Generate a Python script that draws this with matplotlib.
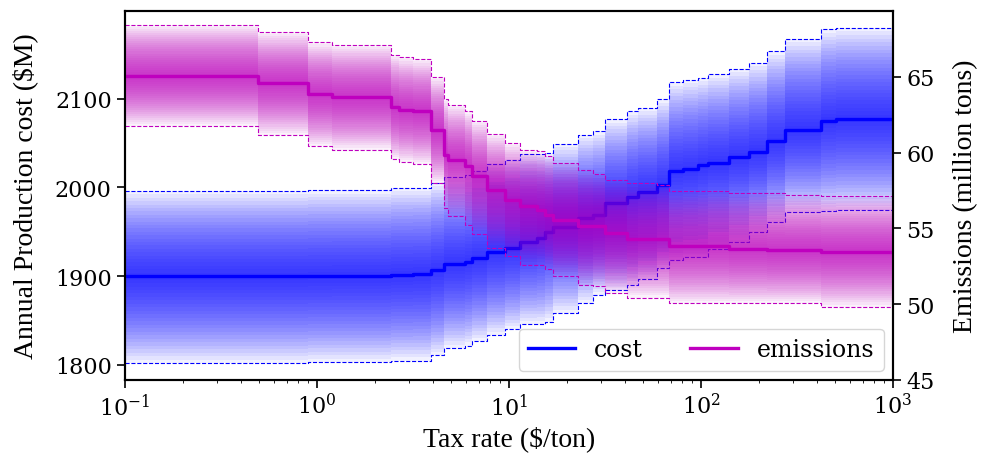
import numpy as np
import matplotlib
matplotlib.use("Agg")
import matplotlib.pyplot as plt

plt.rcParams["font.family"] = ["DejaVu Serif"]
plt.rcParams["mathtext.fontset"] = "stix"

LABEL_FONT = ["Liberation Serif", "DejaVu Serif"]

# tax rate at which each step starts ($/ton)
tax = [0.1, 0.49, 0.90, 1.2, 2.43, 2.67, 3.16, 3.92, 4.58, 4.81, 5.9, 6.42,
       7.68, 9.53, 11.4, 14.0, 15.4, 16.9, 22.9, 27.4, 31.6, 41.2, 47.0,
       59.0, 68.1, 80.5, 96.4, 108.7, 140, 178, 221, 274, 422, 505]
tax_end = 1000

# annual production cost ($M): median and band bounds
cost_med = [1900, 1900, 1900.3, 1900.5, 1901.5, 1901.5, 1902.3, 1906.8,
            1913.5, 1913.5, 1916.2, 1920, 1927.4, 1931.2, 1938, 1942.4, 1950,
            1955.6, 1965, 1968.6, 1981.8, 1989.3, 1995, 2002.4, 2018.1,
            2020.4, 2024.9, 2027.9, 2034.3, 2040, 2051.9, 2065, 2074.8, 2077.4]
cost_lo = [1801.8, 1801.8, 1802.9, 1802.9, 1804.8, 1804.8, 1804.8, 1810.5,
           1819, 1819, 1821.5, 1826.5, 1833.6, 1840, 1845.7, 1845.7, 1848.7,
           1858, 1869.3, 1878.6, 1884.3, 1890, 1897, 1909, 1918, 1921, 1921,
           1930, 1938.7, 1950, 1961.2, 1972.4, 1973.6, 1974.3]
cost_hi = [1996, 1996, 1996.8, 1996.8, 1999.5, 1999.5, 1999.5, 2005.4,
           2011.8, 2011.8, 2014.4, 2018.6, 2026, 2030.5, 2038, 2038, 2039.2,
           2049.3, 2059.4, 2063.1, 2076.6, 2085.6, 2089.5, 2099.1, 2118.7,
           2121.3, 2123.5, 2127.3, 2133.7, 2140.4, 2153.1, 2167.4, 2177.9, 2179.8]

# emissions (million tons)
em_med = [65.07, 64.59, 63.86, 63.66, 63.0, 62.83, 62.72, 61.47, 59.87, 59.54,
          59.13, 58.45, 57.57, 56.91, 56.47, 56.25, 55.92, 55.57, 55.13, 55.13,
          54.72, 54.28, 54.28, 54.28, 53.84, 53.84, 53.84, 53.84, 53.66, 53.66,
          53.55, 53.55, 53.47, 53.47]
em_lo = [61.74, 61.18, 60.42, 60.2, 59.59, 59.39, 59.26, 58.0, 56.36, 55.82,
         55.26, 54.65, 53.73, 53.17, 52.6, 52.6, 52.3, 51.84, 51.26, 51.2,
         50.72, 50.44, 50.44, 50.44, 50.05, 50.05, 50.05, 50.05, 50.05, 50.05,
         50.05, 50.05, 49.83, 49.83]
em_hi = [68.42, 67.94, 67.28, 67.1, 66.45, 66.3, 66.16, 64.98, 63.55, 63.16,
         62.72, 62.1, 61.23, 60.64, 60.2, 60.09, 59.76, 59.32, 58.83, 58.62,
         58.22, 58.0, 58.0, 57.89, 57.46, 57.46, 57.46, 57.46, 57.35, 57.35,
         57.35, 57.24, 57.13, 57.13]


def ext(v):
    # repeat last value so the final step reaches the axis end
    return np.array(list(v) + [v[-1]], dtype=float)


x = np.array(tax + [tax_end], dtype=float)


def fan(ax, med, lo, hi, color, label, nlev=25, alpha=0.055):
    med, lo, hi = ext(med), ext(lo), ext(hi)
    for f in np.linspace(1.0 / nlev, 1.0, nlev):
        ax.fill_between(x, med - f * (med - lo), med + f * (hi - med),
                        step="post", color=color, alpha=alpha, lw=0)
    ax.plot(x, lo, drawstyle="steps-post", color=color, ls="--", lw=0.8)
    ax.plot(x, hi, drawstyle="steps-post", color=color, ls="--", lw=0.8)
    line, = ax.plot(x, med, drawstyle="steps-post", color=color, lw=2.4,
                    label=label)
    return line


fig = plt.figure(figsize=(9.81, 4.56), dpi=100)
ax1 = fig.add_axes([0.1274, 0.1645, 0.7829, 0.8092])
ax2 = ax1.twinx()

l1 = fan(ax1, cost_med, cost_lo, cost_hi, "b", "cost")
l2 = fan(ax2, em_med, em_lo, em_hi, "m", "emissions")

ax1.set_xscale("log")
ax1.set_xlim(0.1, 1000)
ax1.set_yticks([1800, 1900, 2000, 2100])
ax2.set_ylim(bottom=45)
ax2.set_yticks([45, 50, 55, 60, 65])

ax1.set_xlabel("Tax rate ($/ton)", fontsize=20, family=LABEL_FONT)
ax1.set_ylabel("Annual Production cost ($M)", fontsize=20, family=LABEL_FONT,
               labelpad=12)
ax2.set_ylabel("Emissions (million tons)", fontsize=20, family=LABEL_FONT,
               labelpad=13)

for ax in (ax1, ax2):
    ax.tick_params(labelsize=16, width=1.2, length=6)
    for s in ax.spines.values():
        s.set_linewidth(1.5)

ax2.legend([l1, l2], ["cost", "emissions"], loc="lower right", ncol=2,
           fontsize=17, borderaxespad=0.4)

fig.savefig("out.png", dpi=100)
